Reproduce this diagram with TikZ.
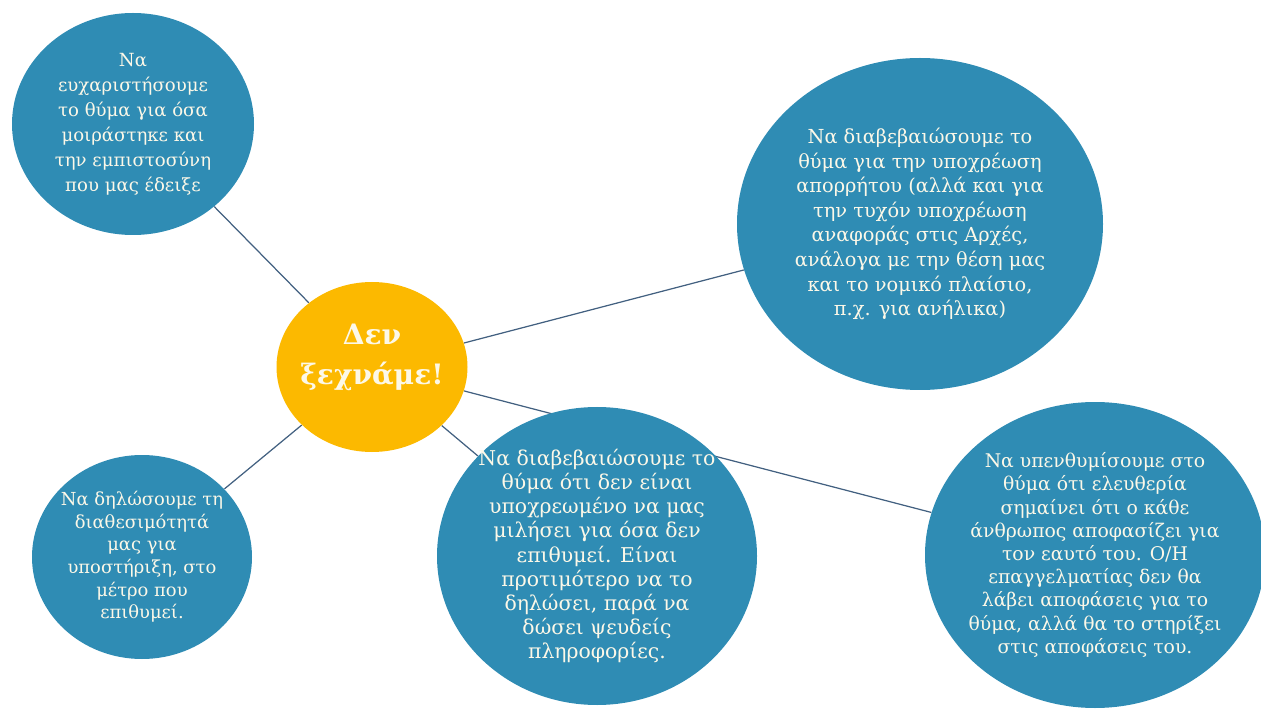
\documentclass[tikz,border=0pt]{standalone}
\usepackage{fontspec}
\setmainfont{DejaVu Serif}
\usepackage{tikz}
\usetikzlibrary{shapes.geometric,backgrounds}

\definecolor{bubbleblue}{RGB}{47,140,180}
\definecolor{hubyellow}{RGB}{252,185,0}
\definecolor{linkgrey}{RGB}{66,96,128}
\definecolor{creamtext}{RGB}{252,248,232}

\begin{document}
\begin{tikzpicture}[x=1cm, y=1cm,
	bubble/.style={ellipse, fill=bubbleblue, inner sep=-1cm, align=center, text=creamtext},
	hub/.style={ellipse, fill=hubyellow, inner sep=-1cm, align=center, text=creamtext, text depth=15pt, font=\bfseries\fontsize{16}{22.8}\selectfont},
	link/.style={draw=linkgrey, line width=0.7pt}]
	\useasboundingbox (0,0) rectangle (25.22,-14.18);

	\node[hub, minimum width=3.82cm, minimum height=3.40cm] (hub) at (7.44,-7.34) {Δεν\\ξεχνάμε!};
	\node[bubble, minimum width=4.84cm, minimum height=4.44cm, font=\fontsize{10.3}{14.2}\selectfont] (thank) at (2.66,-2.48) {Να\\ευχαριστήσουμε\\το θύμα για όσα\\μοιράστηκε και\\την εμπιστοσύνη\\που μας έδειξε};
	\node[bubble, minimum width=7.32cm, minimum height=6.64cm, font=\fontsize{11}{14}\selectfont] (secret) at (18.40,-4.48) {Να διαβεβαιώσουμε το\\θύμα για την υποχρέωση\\απορρήτου (αλλά και για\\την τυχόν υποχρέωση\\αναφοράς στις Αρχές,\\ανάλογα με την θέση μας\\και το νομικό πλαίσιο,\\π.χ. για ανήλικα)};
	\node[bubble, minimum width=4.40cm, minimum height=4.08cm, font=\fontsize{10.2}{12.9}\selectfont] (support) at (2.84,-11.14) {Να δηλώσουμε τη\\διαθεσιμότητά\\μας για\\υποστήριξη, στο\\μέτρο που\\επιθυμεί.};
	\node[bubble, minimum width=6.40cm, minimum height=5.96cm, font=\fontsize{11.6}{13.7}\selectfont] (choice) at (11.94,-11.12) {Να διαβεβαιώσουμε το\\θύμα ότι δεν είναι\\υποχρεωμένο να μας\\μιλήσει για όσα δεν\\επιθυμεί. Είναι\\προτιμότερο να το\\δηλώσει, παρά να\\δώσει ψευδείς\\πληροφορίες.};
	\node[bubble, minimum width=6.80cm, minimum height=6.12cm, font=\fontsize{10.7}{13.2}\selectfont] (freedom) at (21.90,-11.10) {Να υπενθυμίσουμε στο\\θύμα ότι ελευθερία\\σημαίνει ότι ο κάθε\\άνθρωπος αποφασίζει για\\τον εαυτό του. Ο/Η\\επαγγελματίας δεν θα\\λάβει αποφάσεις για το\\θύμα, αλλά θα το στηρίξει\\στις αποφάσεις του.};

	\begin{scope}[on background layer]
		\draw[link] (hub) -- (thank);
		\draw[link] (hub) -- (secret);
		\draw[link] (hub) -- (support);
		\draw[link] (hub) -- (choice);
		\draw[link] (hub) -- (freedom);
	\end{scope}

\end{tikzpicture}
\end{document}
